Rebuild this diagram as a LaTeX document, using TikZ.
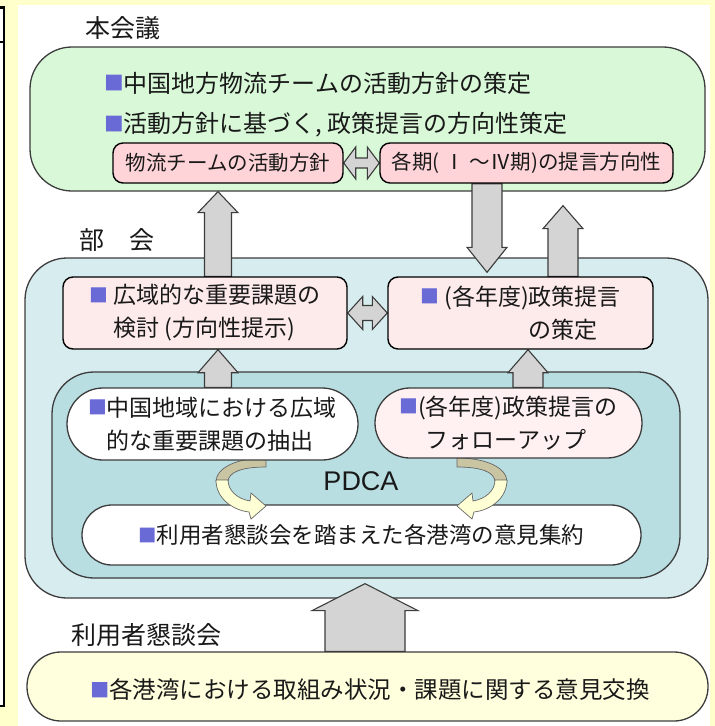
\documentclass[tikz,border=0pt]{standalone}
\usepackage{fontspec}
\setmainfont{Noto Sans CJK JP}
\newfontfamily\latinfont{Liberation Sans}
\usetikzlibrary{calc}
\pgfdeclarelayer{bg}\pgfdeclarelayer{mid}
\pgfsetlayers{bg,mid,main}
\definecolor{bgyellow}{RGB}{255,255,204}
\definecolor{hqgreen}{RGB}{216,248,216}
\definecolor{pinkA}{RGB}{255,212,216}
\definecolor{pinkB}{RGB}{253,234,234}
\definecolor{pinkC}{RGB}{255,241,241}
\definecolor{blueA}{RGB}{214,236,238}
\definecolor{blueB}{RGB}{184,222,226}
\definecolor{ylwbox}{RGB}{255,255,222}
\definecolor{bul}{RGB}{106,106,214}
\definecolor{edge}{RGB}{60,60,60}
\definecolor{arrgray}{RGB}{212,212,212}
\definecolor{beige}{RGB}{201,197,163}
\definecolor{ribbon}{RGB}{255,255,214}
\definecolor{ink}{RGB}{25,25,25}
\newcommand\sq{{\color{bul}\raisebox{0.07em}{\scalebox{0.82}{■}}}}
\newcommand\blockarrow[5]{%
 \coordinate (hb) at ($(#2)!#5!(#1)$);
 \draw[blockarr] ($(#1)!#3!90:(#2)$) -- ($(hb)!#3!-90:(#1)$) -- ($(hb)!#4!-90:(#1)$) -- (#2) -- ($(hb)!#4!90:(#1)$) -- ($(hb)!#3!90:(#1)$) -- ($(#1)!#3!-90:(#2)$) -- cycle;}
\newcommand\dblarrow[5]{%
 \coordinate (da) at ($(#1)!#5!(#2)$);
 \coordinate (db) at ($(#2)!#5!(#1)$);
 \draw[blockarr] (#1) -- ($(da)!#4!90:(#2)$) -- ($(da)!#3!90:(#2)$) -- ($(db)!#3!-90:(#1)$) -- ($(db)!#4!-90:(#1)$) -- (#2) -- ($(db)!#4!90:(#1)$) -- ($(db)!#3!90:(#1)$) -- ($(da)!#3!-90:(#2)$) -- ($(da)!#4!-90:(#2)$) -- cycle;}
\newcommand\pdcaarrow{%
 \draw[ribedge, fill=beige] (216,482) .. controls (216,468) and (236,458) .. (266,458) -- (266,467) .. controls (242,467) and (228,472) .. (228,482) -- cycle;
 \draw[ribedge, fill=ribbon] (216,480) .. controls (216,498) and (232,510) .. (249,512) -- (251,519) -- (266,506) -- (251,493) -- (250,501) .. controls (238,499) and (228,491) .. (228,480) -- cycle;}
\begin{document}
\begin{tikzpicture}[x=1pt,y=-1pt,
  container/.style={draw=edge, line width=1.3pt, rectangle, inner sep=0pt},
  tagbox/.style={draw=black, line width=1.4pt, rectangle, inner sep=0pt, rounded corners=10pt, text=ink},
  capsule/.style={draw=edge, line width=1.3pt, rectangle, inner sep=0pt, fill=white, text=ink, align=left},
  blockarr/.style={draw=edge, line width=1.1pt, fill=arrgray, line join=miter},
  ribedge/.style={draw=black!60, line width=0.7pt},
  lbl/.style={font=\fontsize{25}{30}\selectfont, text=ink, inner sep=0pt},
  bodyA/.style={font=\fontsize{24}{30}\selectfont, text=ink, inner sep=0pt},
  bodyB/.style={font=\fontsize{23}{33}\selectfont},
  tagtxt/.style={font=\fontsize{20.5}{24}\selectfont}]
\useasboundingbox (0,0) rectangle (715,726);
\begin{pgfonlayer}{bg}
\fill[bgyellow] (0,0) rectangle (715,726);
\fill[white] (18,5) rectangle (710,726);
\fill[white] (0,7) rectangle (4,707);
\draw[line width=2.5pt] (0,7.5) -- (4,7.5) -- (4,706) -- (0,706);
\draw[line width=2.5pt] (0,42) -- (4,42);
\node[container, fill=hqgreen, minimum width=675pt, minimum height=144pt, rounded corners=42pt] (hq) at (367.5,119) {};
\node[container, fill=blueA, minimum width=683pt, minimum height=340pt, rounded corners=42pt] (bk) at (366.5,428) {};
\node[container, fill=blueB, minimum width=628pt, minimum height=206pt, rounded corners=42pt] (inb) at (366,475) {};
\node[container, fill=ylwbox, minimum width=681pt, minimum height=69pt, rounded corners=34pt] (yb) at (367.5,686.5) {};
\end{pgfonlayer}
% labels
\node[lbl] (lhq) at (123,28) {本会議};
\node[lbl] (lbk) at (117,240) {部　会};
\node[lbl] (lyb) at (146,635) {利用者懇談会};
% HQ text
\node[bodyA, anchor=west] (t1) at (104,83) {\sq 中国地方物流チームの活動方針の策定};
\node[bodyA, anchor=west] (t2) at (104,125) {\sq 活動方針に基づく, 政策提言の方向性策定};
\node[tagbox, tagtxt, fill=pinkA, minimum width=230pt, minimum height=40pt] (p1) at (228,163) {物流チームの活動方針};
\node[tagbox, tagtxt, fill=pinkA, minimum width=293pt, minimum height=40pt] (p2) at (526.5,163) {各期( Ⅰ ～Ⅳ期)の提言方向性};
% bukai boxes
\node[tagbox, bodyB, fill=pinkB, minimum width=284pt, minimum height=72pt, align=left] (k1) at (205,313) {\sq\ 広域的な重要課題の\\\hphantom{\sq\ }検討 (方向性提示)};
\node[tagbox, bodyB, fill=pinkB, minimum width=265pt, minimum height=72pt, align=left] (k2) at (520.5,313) {\sq\ (各年度)政策提言\\\hphantom{\sq\ (各年度)}の策定};
\node[capsule, bodyB, minimum width=291pt, minimum height=72pt, rounded corners=36pt] (w1) at (212.5,424) {\sq 中国地域における広域\\\hphantom{\sq}的な重要課題の抽出};
\node[capsule, bodyB, fill=pinkC, minimum width=267pt, minimum height=70pt, rounded corners=35pt] (w2) at (508.5,423) {\sq(各年度)政策提言の\\\hphantom{\sq(}フォローアップ};
\node[font=\latinfont\fontsize{27}{30}\selectfont, text=ink, inner sep=0pt] (pdca) at (361,481) {PDCA};
\begin{pgfonlayer}{mid}
\coordinate (x1) at (218,0);
\coordinate (x2) at (487,0);
\coordinate (x3) at (563,0);
\coordinate (x4) at (528,0);
\coordinate (x5) at (365,0);
\coordinate (a1s) at (k1.north -| x1);
\coordinate (a1e) at (hq.south -| x1);
\blockarrow{a1s}{a1e}{13.5pt}{20pt}{21pt}
\coordinate (a2s) at (p2.south -| x2);
\coordinate (a2e) at ($(k2.north -| x2)+(0,-4)$);
\blockarrow{a2s}{a2e}{15pt}{20pt}{25pt}
\coordinate (a3s) at (k2.north -| x3);
\coordinate (a3e) at ($(hq.south -| x3)+(0,14)$);
\blockarrow{a3s}{a3e}{15pt}{20pt}{23pt}
\coordinate (a4s) at (w1.north -| x1);
\coordinate (a4e) at (k1.south -| x1);
\blockarrow{a4s}{a4e}{13.5pt}{20pt}{23pt}
\coordinate (a5s) at (w2.north -| x4);
\coordinate (a5e) at (k2.south -| x4);
\blockarrow{a5s}{a5e}{15pt}{20pt}{23pt}
\coordinate (a6s) at (yb.north -| x5);
\coordinate (a6e) at ($(inb.south -| x5)+(0,5)$);
\blockarrow{a6s}{a6e}{40pt}{53pt}{27pt}
\dblarrow{p1.east}{p2.west}{5pt}{16pt}{12pt}
\dblarrow{k1.east}{k2.west}{7.5pt}{16.5pt}{15pt}
\node[capsule, bodyB, font=\fontsize{22.5}{28}\selectfont, minimum width=559pt, minimum height=60pt, rounded corners=30pt] (w3) at (361.5,535) {\sq 利用者懇談会を踏まえた各港湾の意見集約};
\pdcaarrow
\begin{scope}[xshift=723pt, xscale=-1]
\pdcaarrow
\end{scope}
\end{pgfonlayer}
\node[bodyA, font=\fontsize{23.5}{28}\selectfont] (ytxt) at (370,690) {\sq 各港湾における取組み状況・課題に関する意見交換};
\end{tikzpicture}
\end{document}
